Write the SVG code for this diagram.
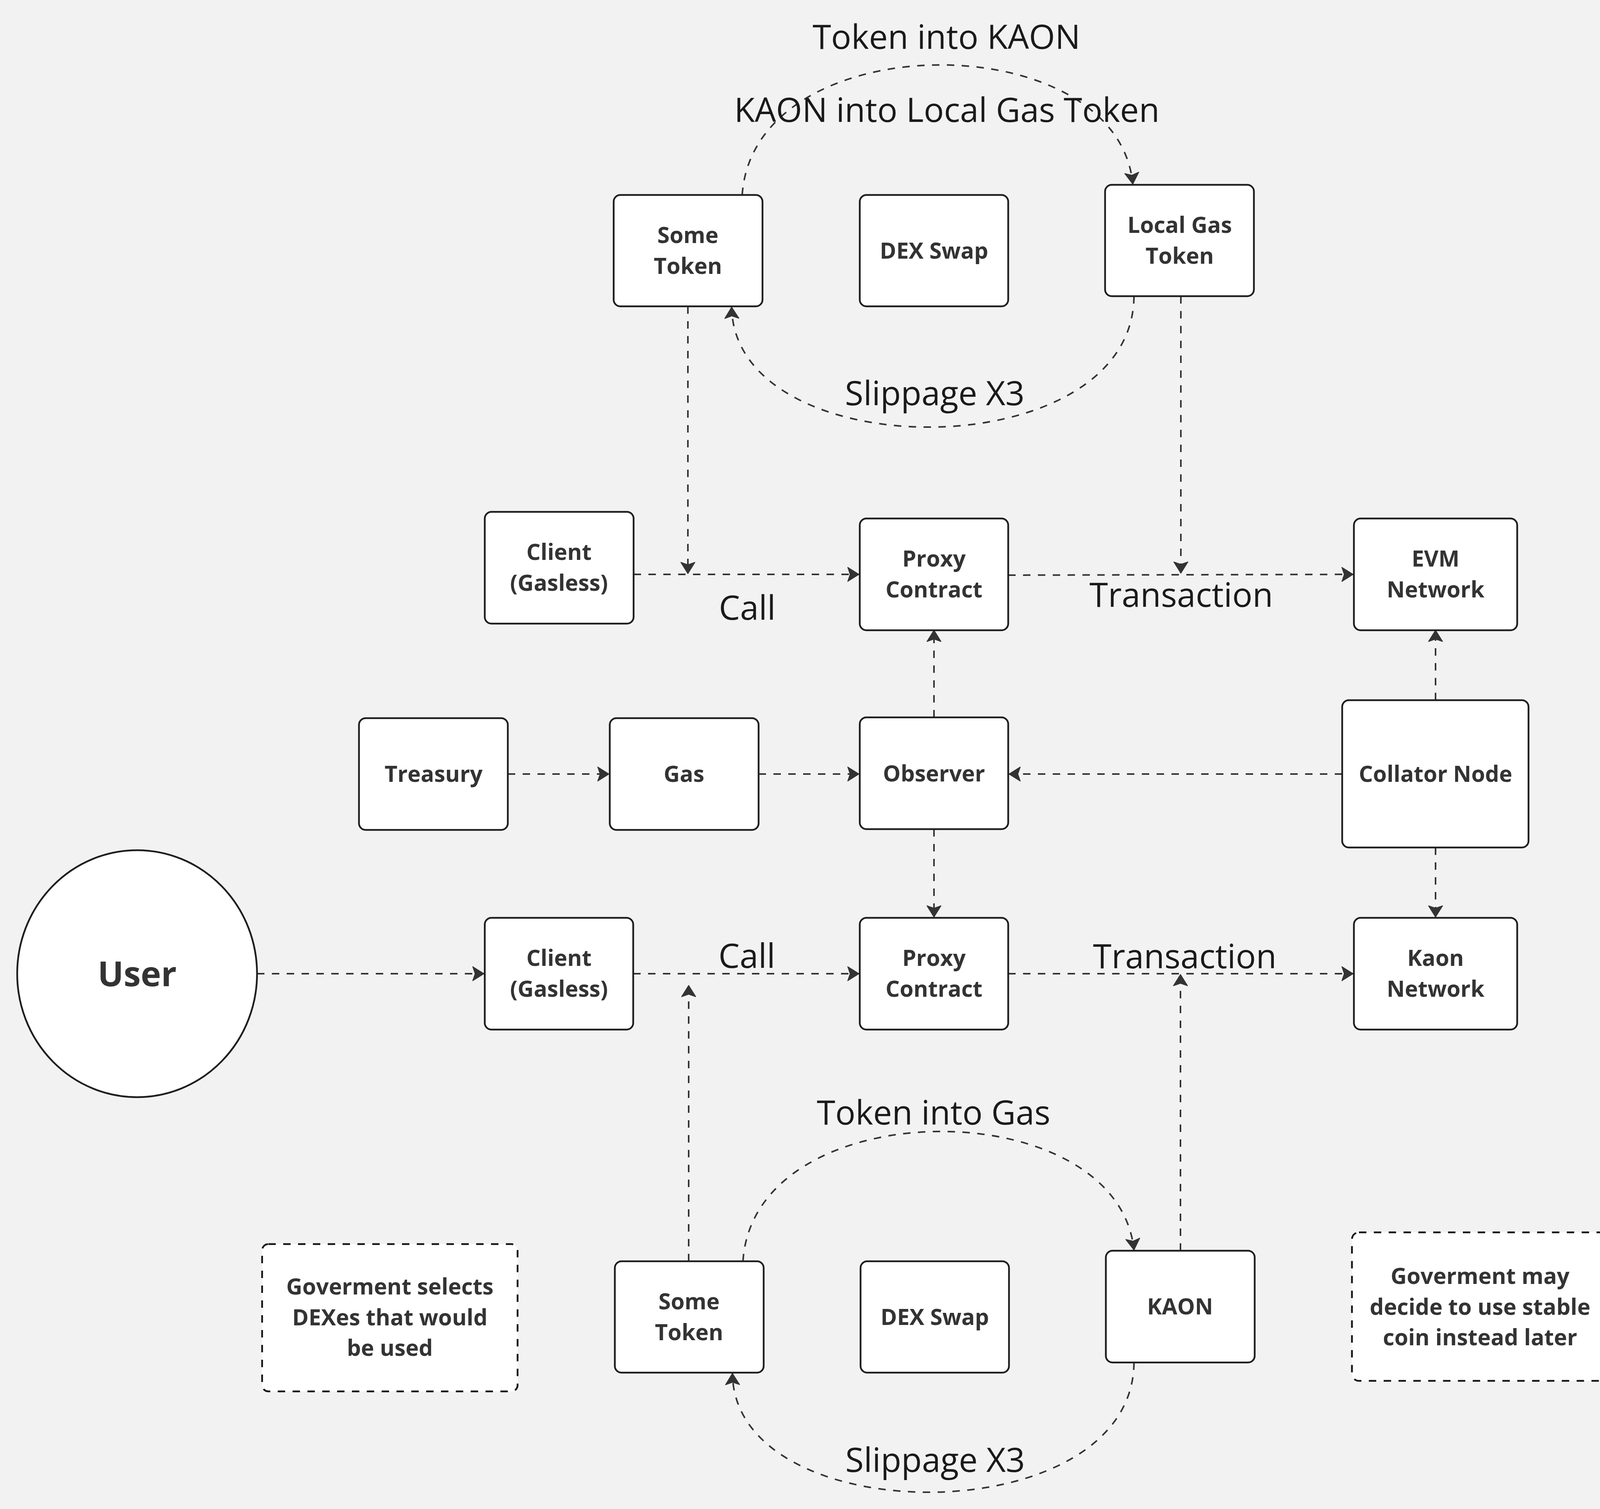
<svg xmlns="http://www.w3.org/2000/svg" width="4141" height="3862" viewBox="0 0 4141 3862">
<defs>
<style>
.node rect{fill:#ffffff;stroke:#1e1e1e;stroke-width:4.5}
.note rect{fill:#ffffff;stroke:#141414;stroke-width:4.5;stroke-dasharray:19 19}
.nt{font-family:"Open Sans","Noto Sans","DejaVu Sans",sans-serif;font-weight:700;font-size:57px;fill:#333333;text-anchor:middle}
.lbl{font-family:"Open Sans","Noto Sans","DejaVu Sans",sans-serif;font-weight:400;font-size:86px;fill:#1a1a1a;text-anchor:middle}
.edge{fill:none;stroke:#333333;stroke-width:4;stroke-dasharray:19 19;marker-end:url(#arr)}
</style>
<marker id="arr" markerUnits="userSpaceOnUse" markerWidth="40" markerHeight="40" viewBox="-2 -2 34 39" refX="28" refY="17.5" orient="auto">
<path d="M0,0 L28,17.5 L0,35 L6,17.5 Z" fill="#333333" stroke="#333333" stroke-width="2" stroke-linejoin="round"/>
</marker>
</defs>
<rect x="0" y="0" width="4141" height="3862" fill="#f2f2f2"/>

<g id="connectors">
<path class="edge" d="M1900,499 C1930,60 2860,60 2900,471"/>
<path class="edge" d="M2903,758 C2900,1200 1880,1200 1873,786"/>
<path class="edge" d="M1761,784 L1761,1468"/>
<path class="edge" d="M1622,1470 L2199,1470"/>
<path class="edge" d="M2581,1472 L3464,1470"/>
<path class="edge" d="M3023,758 L3023,1467"/>
<path class="edge" d="M2391,1836 L2391,1613"/>
<path class="edge" d="M1300,1981 L1559,1981"/>
<path class="edge" d="M1942,1981 L2199,1981"/>
<path class="edge" d="M3436,1981 L2583,1981"/>
<path class="edge" d="M3675,1792 L3675,1613"/>
<path class="edge" d="M3675,2169 L3675,2347"/>
<path class="edge" d="M2391,2122 L2391,2347"/>
<path class="edge" d="M658,2492 L1239,2492"/>
<path class="edge" d="M1621,2492 L2199,2492"/>
<path class="edge" d="M2581,2492 L3464,2492"/>
<path class="edge" d="M1763,3228 L1763,2522"/>
<path class="edge" d="M3022,3201 L3022,2494"/>
<path class="edge" d="M1902,3228 C1930,2790 2860,2790 2903,3199"/>
<path class="edge" d="M2903,3487 C2900,3925 1880,3925 1875,3515"/>
</g>

<g id="labels">
<text class="lbl" x="2423" y="125">Token into KAON</text>
<text class="lbl" x="2424" y="312">KAON into Local Gas Token</text>
<text class="lbl" x="2393" y="1037">Slippage X3</text>
<text class="lbl" x="1913" y="1586">Call</text>
<text class="lbl" x="3024" y="1553">Transaction</text>
<text class="lbl" x="1912" y="2477">Call</text>
<text class="lbl" x="3033" y="2478">Transaction</text>
<text class="lbl" x="2390" y="2878">Token into Gas</text>
<text class="lbl" x="2394" y="3767">Slippage X3</text>
</g>

<g id="someTokenTop" class="node"><rect x="1571" y="499" width="381" height="285" rx="17"/><text class="nt" x="1761" y="622">Some</text><text class="nt" x="1761" y="701">Token</text></g>
<g id="dexSwapTop" class="node"><rect x="2201" y="499" width="380" height="285" rx="17"/><text class="nt" x="2391" y="662">DEX Swap</text></g>
<g id="localGasToken" class="node"><rect x="2829" y="473" width="381" height="285" rx="17"/><text class="nt" x="3020" y="596">Local Gas</text><text class="nt" x="3020" y="675">Token</text></g>
<g id="clientTop" class="node"><rect x="1241" y="1310" width="381" height="286" rx="17"/><text class="nt" x="1431" y="1433">Client</text><text class="nt" x="1431" y="1512">(Gasless)</text></g>
<g id="proxyTop" class="node"><rect x="2201" y="1327" width="380" height="286" rx="17"/><text class="nt" x="2391" y="1450">Proxy</text><text class="nt" x="2391" y="1529">Contract</text></g>
<g id="evmNetwork" class="node"><rect x="3466" y="1327" width="418" height="286" rx="17"/><text class="nt" x="3675" y="1450">EVM</text><text class="nt" x="3675" y="1529">Network</text></g>
<g id="treasury" class="node"><rect x="919" y="1838" width="381" height="286" rx="17"/><text class="nt" x="1110" y="2001">Treasury</text></g>
<g id="gas" class="node"><rect x="1561" y="1838" width="381" height="286" rx="17"/><text class="nt" x="1751" y="2001">Gas</text></g>
<g id="observer" class="node"><rect x="2201" y="1836" width="380" height="286" rx="17"/><text class="nt" x="2391" y="2000">Observer</text></g>
<g id="collatorNode" class="node"><rect x="3436" y="1792" width="477" height="377" rx="17"/><text class="nt" x="3675" y="2001">Collator Node</text></g>
<g id="user"><ellipse cx="351" cy="2492" rx="307" ry="316" fill="#ffffff" stroke="#1e1e1e" stroke-width="4.5"/><text class="nt" x="351" y="2524" style="font-size:88px">User</text></g>
<g id="clientBottom" class="node"><rect x="1241" y="2349" width="380" height="286" rx="17"/><text class="nt" x="1431" y="2472">Client</text><text class="nt" x="1431" y="2551">(Gasless)</text></g>
<g id="proxyBottom" class="node"><rect x="2201" y="2349" width="380" height="286" rx="17"/><text class="nt" x="2391" y="2472">Proxy</text><text class="nt" x="2391" y="2551">Contract</text></g>
<g id="kaonNetwork" class="node"><rect x="3466" y="2349" width="418" height="286" rx="17"/><text class="nt" x="3675" y="2472">Kaon</text><text class="nt" x="3675" y="2551">Network</text></g>
<g id="someTokenBottom" class="node"><rect x="1574" y="3228" width="381" height="285" rx="17"/><text class="nt" x="1764" y="3351">Some</text><text class="nt" x="1764" y="3430">Token</text></g>
<g id="dexSwapBottom" class="node"><rect x="2203" y="3228" width="380" height="285" rx="17"/><text class="nt" x="2393" y="3391">DEX Swap</text></g>
<g id="kaon" class="node"><rect x="2831" y="3201" width="381" height="286" rx="17"/><text class="nt" x="3021" y="3364">KAON</text></g>
<g id="noteDexes" class="note"><rect x="671" y="3184" width="654" height="377" rx="16"/><text class="nt" x="998" y="3313">Goverment selects</text><text class="nt" x="998" y="3392">DEXes that would</text><text class="nt" x="998" y="3470">be used</text></g>
<g id="noteStable" class="note"><rect x="3461" y="3154" width="656" height="380" rx="18"/><text class="nt" x="3789" y="3286">Goverment may</text><text class="nt" x="3789" y="3365">decide to use stable</text><text class="nt" x="3789" y="3443">coin instead later</text></g>
</svg>
